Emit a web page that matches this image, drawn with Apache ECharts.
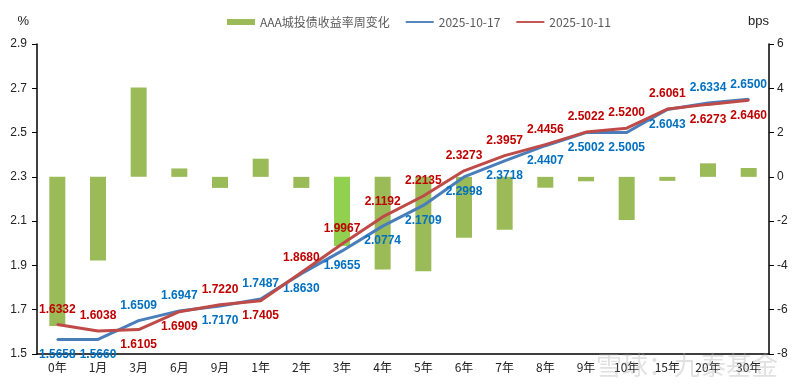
<!DOCTYPE html>
<html>
<head>
<meta charset="utf-8">
<script src="https://cdn.jsdelivr.net/npm/echarts@6/dist/echarts.min.js"></script>
<style>html,body{margin:0;padding:0;background:#fff;}#c{width:800px;height:386px;}</style>
</head>
<body>
<div id="c"></div>
<script>
const categories = ['0年','1月','3月','6月','9月','1年','2年','3年','4年','5年','6年','7年','8年','9年','10年','15年','20年','30年'];
const yield1017 = [1.5658,1.5660,1.6509,1.6947,1.7170,1.7487,1.8630,1.9655,2.0774,2.1709,2.2998,2.3718,2.4407,2.5002,2.5005,2.6043,2.6334,2.6500];
const yield1011 = [1.6332,1.6038,1.6105,1.6909,1.7220,1.7405,1.8680,1.9967,2.1192,2.2135,2.3273,2.3957,2.4456,2.5022,2.5200,2.6061,2.6273,2.6460];
const weeklyChange = [-6.74,-3.78,4.04,0.38,-0.50,0.82,-0.50,-3.12,-4.18,-4.26,-2.75,-2.39,-0.49,-0.20,-1.95,-0.18,0.61,0.40];
const leftTicks = [1.5,1.7,1.9,2.1,2.3,2.5,2.7,2.9];
const rightTicks = [-8,-6,-4,-2,0,2,4,6];

// label placement (style only)
const bluePos = ['bottom','bottom','top','top','bottom','top','bottom','bottom','bottom','bottom','bottom','bottom','bottom','bottom','bottom','bottom','top','top'];
const redPos  = ['top','top','bottom','bottom','top','bottom','top','top','top','top','top','top','top','top','top','top','bottom','bottom'];

const chart = echarts.init(document.getElementById('c'));
const lblFont = {fontFamily:'Liberation Sans, Arial, sans-serif', fontSize:12, fontWeight:'bold'};
const axisFont = {fontFamily:'Liberation Sans, Arial, sans-serif', fontSize:12, color:'#222'};

chart.setOption({
  animation:false,
  backgroundColor:'#fff',
  legend:{
    top:11, left:222, itemWidth:28, itemHeight:6, itemGap:16,
    textStyle:{fontFamily:'Noto Sans CJK SC', fontSize:12, color:'#595959'},
    data:[
      {name:'AAA城投债收益率周变化', icon:'rect'},
      {name:'2025-10-17', icon:'path://M0,2 L30,2 L30,4 L0,4 Z'},
      {name:'2025-10-11', icon:'path://M0,2 L30,2 L30,4 L0,4 Z'}
    ]
  },
  grid:{left:37, right:31, top:44, bottom:32, containLabel:false},
  xAxis:{
    type:'category', data:categories, boundaryGap:true,
    axisLine:{onZero:false, lineStyle:{color:'#000', width:1.5}},
    axisTick:{alignWithLabel:false, inside:true, length:5, lineStyle:{color:'#000'}},
    axisLabel:{fontFamily:'Noto Sans CJK SC', fontSize:12, color:'#222', margin:7}
  },
  yAxis:[
    {type:'value', min:1.5, max:2.9, interval:0.2, position:'left',
     name:'%', nameLocation:'end', nameGap:16, nameTextStyle:{fontFamily:'Liberation Sans', fontSize:13, color:'#222', align:'right', padding:[0,8,0,0]},
     splitLine:{show:false},
     axisLine:{show:true, lineStyle:{color:'#000', width:1.5}},
     axisTick:{show:true, length:5, lineStyle:{color:'#000'}},
     axisLabel:Object.assign({formatter:v=>v.toFixed(1), margin:10}, axisFont)},
    {type:'value', min:-8, max:6, interval:2, position:'right',
     name:'bps', nameLocation:'end', nameGap:16, nameTextStyle:{fontFamily:'Liberation Sans', fontSize:13, color:'#222', align:'right'},
     splitLine:{show:false},
     axisLine:{show:true, lineStyle:{color:'#000', width:1.5}},
     axisTick:{show:true, length:5, lineStyle:{color:'#000'}},
     axisLabel:Object.assign({margin:8}, axisFont)}
  ],
  series:[
    {name:'AAA城投债收益率周变化', type:'bar', yAxisIndex:1, barWidth:16,
     itemStyle:{color:'#9BBB59'},
     data:weeklyChange.map((v,i)=>categories[i]==='3年'?{value:v,itemStyle:{color:'#92D050'}}:v)},
    {name:'2025-10-17', type:'line', yAxisIndex:0, symbol:'circle', symbolSize:2, showSymbol:true, z:4,
     lineStyle:{color:'#4A7EBB', width:3}, itemStyle:{color:'#4A7EBB'},
     data:yield1017.map((v,i)=>({value:v, label:{position:bluePos[i]}})),
     label:Object.assign({show:true, color:'#0070C0', distance:8, formatter:p=>p.value.toFixed(4)}, lblFont)},
    {name:'2025-10-11', type:'line', yAxisIndex:0, symbol:'circle', symbolSize:2, showSymbol:true, z:5,
     lineStyle:{color:'#BE4B48', width:3}, itemStyle:{color:'#BE4B48'},
     data:yield1011.map((v,i)=>({value:v, label:{position:redPos[i]}})),
     label:Object.assign({show:true, color:'#C00000', distance:8, formatter:p=>p.value.toFixed(4)}, lblFont)}
  ],
  graphic:[
    {type:'text', right:22, bottom:8, z:100, silent:true,
     style:{text:'雪球：九泰基金', fontFamily:'Noto Sans CJK SC', fontSize:26, fill:'rgba(170,170,170,0.35)'}}
  ]
});
</script>
</body>
</html>
